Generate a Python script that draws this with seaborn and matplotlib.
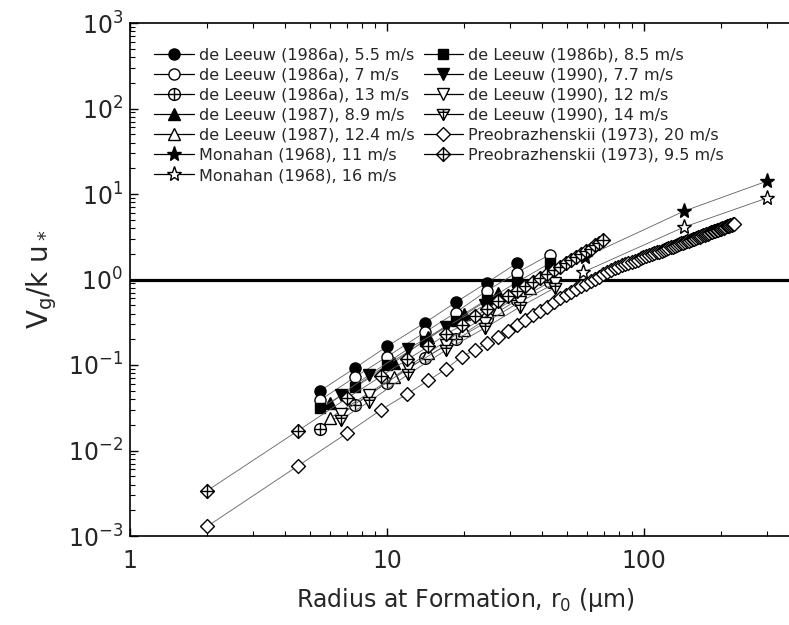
import numpy as np
import pandas as pd
import matplotlib
matplotlib.use("Agg")
import matplotlib.pyplot as plt
from matplotlib.path import Path
from matplotlib.lines import Line2D
import seaborn as sns

# ---------------- data ----------------
r_dl = [5.5, 7.5, 10, 14, 18.5, 24.5, 32, 43]

dl86a_55_r = [5.5, 7.5, 10, 14, 18.5, 24.5, 32]
dl86a_55_y = [0.050, 0.092, 0.165, 0.31, 0.54, 0.92, 1.55]

dl86a_7_r = r_dl
dl86a_7_y = [0.039, 0.072, 0.125, 0.24, 0.41, 0.74, 1.20, 1.95]

dl86a_13_r = r_dl
dl86a_13_y = [0.018, 0.034, 0.062, 0.12, 0.20, 0.35, 0.57, 0.93]

dl86b_85_r = r_dl
dl86b_85_y = [0.031, 0.056, 0.100, 0.19, 0.33, 0.57, 0.93, 1.55]

dl87_89_r = [6.0, 10.6, 14.5, 20, 27]
dl87_89_y = [0.036, 0.106, 0.21, 0.40, 0.70]

dl87_124_r = [6.0, 10.6, 14.5, 20, 27, 36]
dl87_124_y = [0.024, 0.072, 0.14, 0.26, 0.45, 0.80]

dl90_77_r = [6.6, 8.5, 12.1, 17, 24, 33]
dl90_77_y = [0.045, 0.076, 0.155, 0.28, 0.50, 0.85]

dl90_12_r = [6.6, 8.5, 12.1, 17, 24, 33, 45]
dl90_12_y = [0.027, 0.045, 0.092, 0.17, 0.31, 0.55, 0.90]

dl90_14_r = [6.6, 8.5, 12.1, 17, 24, 33, 45]
dl90_14_y = [0.023, 0.037, 0.078, 0.15, 0.27, 0.48, 0.80]

mon_11_r = [59, 143, 302]
mon_11_y = [1.83, 6.3, 14.2]

mon_16_r = [58, 143, 302]
mon_16_y = [1.22, 4.1, 9.0]

pre_20_r = [2, 4.5, 7, 9.5, 12, 14.5, 17, 19.5, 22, 24.5, 27, 29.5, 32, 34.5,
            37, 39.5, 42, 44.5, 47, 49.5, 52, 54.5, 57, 59.5, 62, 64.5, 67,
            69.5, 72, 74.5, 77, 79.5, 82, 84.5, 87, 89.5, 92, 94.5, 97, 99.5,
            102, 104.5, 107, 109.5, 112, 114.5, 117, 119.5, 122, 124.5, 127,
            129.5, 132, 134.5, 137, 139.5, 142, 144.5, 147, 149.5, 152, 154.5,
            157, 159.5, 162, 164.5, 167, 169.5, 172, 174.5, 177, 179.5, 182,
            184.5, 187, 189.5, 192, 194.5, 197, 199.5, 202, 204.5, 207, 209.5,
            212, 214.5, 217, 219.5, 222, 224.5]
pre_20_y = [0.0013, 0.0066, 0.016, 0.030, 0.046, 0.066, 0.090, 0.125, 0.150,
            0.180, 0.215, 0.250, 0.290, 0.335, 0.380, 0.430, 0.480, 0.540,
            0.600, 0.655, 0.710, 0.770, 0.830, 0.890, 0.95, 1.02, 1.08, 1.15,
            1.22, 1.29, 1.35, 1.41, 1.46, 1.51, 1.56, 1.61, 1.66, 1.71, 1.77,
            1.82, 1.87, 1.92, 1.97, 2.02, 2.07, 2.12, 2.17, 2.22, 2.28, 2.33,
            2.38, 2.43, 2.49, 2.54, 2.59, 2.64, 2.69, 2.75, 2.80, 2.85, 2.91,
            2.96, 3.01, 3.07, 3.12, 3.17, 3.23, 3.28, 3.34, 3.39, 3.45, 3.50,
            3.56, 3.61, 3.67, 3.72, 3.78, 3.83, 3.89, 3.94, 4.00, 4.05, 4.11,
            4.17, 4.22, 4.28, 4.34, 4.39, 4.45, 4.51]

pre_95_r = [2, 4.5, 7, 9.5, 12, 14.5, 17, 19.5, 22, 24.5, 27, 29.5, 32, 34.5,
            37, 39.5, 42, 44.5, 47, 49.5, 52, 54.5, 57, 59.5, 62, 64.5, 67, 69.5]
pre_95_y = [0.0034, 0.017, 0.041, 0.074, 0.116, 0.165, 0.23, 0.29, 0.37,
            0.45, 0.56, 0.64, 0.73, 0.84, 0.94, 1.05, 1.16, 1.28, 1.40, 1.55,
            1.70, 1.85, 2.00, 2.15, 2.30, 2.50, 2.70, 2.90]

labels = ["de Leeuw (1986a), 5.5 m/s", "de Leeuw (1986a), 7 m/s",
          "de Leeuw (1986a), 13 m/s", "de Leeuw (1987), 8.9 m/s",
          "de Leeuw (1987), 12.4 m/s", "Monahan (1968), 11 m/s",
          "Monahan (1968), 16 m/s", "de Leeuw (1986b), 8.5 m/s",
          "de Leeuw (1990), 7.7 m/s", "de Leeuw (1990), 12 m/s",
          "de Leeuw (1990), 14 m/s", "Preobrazhenskii (1973), 20 m/s",
          "Preobrazhenskii (1973), 9.5 m/s"]

xs = [dl86a_55_r, dl86a_7_r, dl86a_13_r, dl87_89_r, dl87_124_r, mon_11_r,
      mon_16_r, dl86b_85_r, dl90_77_r, dl90_12_r, dl90_14_r, pre_20_r, pre_95_r]
ys = [dl86a_55_y, dl86a_7_y, dl86a_13_y, dl87_89_y, dl87_124_y, mon_11_y,
      mon_16_y, dl86b_85_y, dl90_77_y, dl90_12_y, dl90_14_y, pre_20_y, pre_95_y]

# ---------------- custom marker shapes ----------------
def _cross_lines(segs):
    verts, codes = [], []
    for (a, b) in segs:
        verts += [a, b]
        codes += [Path.MOVETO, Path.LINETO]
    return Path(verts, codes)

circ = Path.unit_circle()
circle_plus = Path.make_compound_path(
    circ, _cross_lines([((-1, 0), (1, 0)), ((0, -1), (0, 1))]))
diamond = Path([(0, 1), (1, 0), (0, -1), (-1, 0), (0, 1)],
               [Path.MOVETO, Path.LINETO, Path.LINETO, Path.LINETO, Path.CLOSEPOLY])
diamond_plus = Path.make_compound_path(
    diamond, _cross_lines([((-1, 0), (1, 0)), ((0, -1), (0, 1))]))
dtri = Path([(-1, 0.8), (1, 0.8), (0, -0.95), (-1, 0.8)],
            [Path.MOVETO, Path.LINETO, Path.LINETO, Path.CLOSEPOLY])
dtri_plus = Path.make_compound_path(
    dtri, _cross_lines([((-0.75, 0.35), (0.75, 0.35)), ((0, 0.8), (0, -0.95))]))

# marker, facecolor, size
styles = [("o", "black", 8), ("o", "white", 8), (circle_plus, "white", 8.5),
          ("^", "black", 8.5), ("^", "white", 8.5), ("*", "black", 11),
          ("*", "white", 11), ("s", "black", 7), ("v", "black", 8.5),
          ("v", "white", 8.5), (dtri_plus, "white", 9), (diamond, "white", 10),
          (diamond_plus, "white", 10)]

# ---------------- figure ----------------
sns.set_theme(style="ticks")
plt.rcParams["font.family"] = ["DejaVu Sans"]
plt.rcParams["mathtext.fontset"] = "dejavusans"
plt.rcParams["mathtext.default"] = "regular"

fig = plt.figure(figsize=(7.89, 6.25), dpi=100)
ax = fig.add_axes([130 / 789, 89 / 625, (802 - 130) / 789, (536 - 23) / 625])

for xv, yv, (mk, fc, ms) in zip(xs, ys, styles):
    df = pd.DataFrame({"r": xv, "v": yv})
    sns.lineplot(data=df, x="r", y="v", ax=ax, estimator=None, sort=False,
                 color="#606060", lw=0.6, marker=mk, markersize=ms,
                 markerfacecolor=fc, markeredgecolor="black",
                 markeredgewidth=1.0, zorder=3)

ax.axhline(1.0, color="black", lw=2.3, zorder=2)

ax.set_xscale("log")
ax.set_yscale("log")
ax.set_xlim(1, 10 ** ((802 - 130) / 257))
ax.set_ylim(1e-3, 1e3)
ax.set_xticks([1, 10, 100])
ax.set_xticklabels(["1", "10", "100"])
ax.set_yticks([1e-3, 1e-2, 1e-1, 1e0, 1e1, 1e2, 1e3])
ax.set_yticklabels([r"10$^{%d}$" % e for e in range(-3, 4)])
ax.tick_params(which="both", direction="in", top=True, right=False,
               labelsize=17, color="black")
ax.tick_params(which="major", length=6, width=1.0)
ax.tick_params(which="minor", length=3.5, width=0.8)
ax.tick_params(axis="y", which="major", pad=5)
ax.tick_params(axis="x", which="major", pad=9)
for s in ["left", "bottom", "top"]:
    ax.spines[s].set_linewidth(1.2)
    ax.spines[s].set_color("black")
ax.spines["right"].set_visible(False)

ax.set_xlabel("Radius at Formation, r$_0$ (\u03bcm)", fontsize=17, labelpad=10)
ax.set_ylabel("V$_g$/k u$_*$", fontsize=20, labelpad=6)

handles = [Line2D([], [], color="black", lw=0.9, marker=mk, markersize=ms,
                  markerfacecolor=fc, markeredgecolor="black",
                  markeredgewidth=1.0) for (mk, fc, ms) in styles]
ax.legend(handles, labels, ncol=2, frameon=False, fontsize=11.5,
          loc="upper left", bbox_to_anchor=(148 / 789, 1 - 41 / 625),
          bbox_transform=fig.transFigure, handlelength=2.5,
          handletextpad=0.3, labelspacing=0.32, columnspacing=0.55,
          borderaxespad=0, borderpad=0.4)

fig.savefig("out.png", dpi=100)
